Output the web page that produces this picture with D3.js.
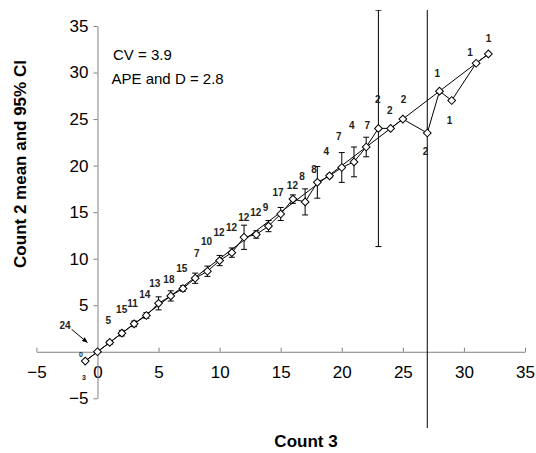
<!DOCTYPE html>
<html>
<head>
<meta charset="utf-8">
<script src="https://cdn.jsdelivr.net/npm/d3@7"></script>
<style>
  body { margin: 0; background: #fff; }
  text { font-family: "Liberation Sans", Arial, Helvetica, sans-serif; }
</style>
</head>
<body>
<div id="chart"></div>
<script>
// values
var count3 = [-1, 0, 1, 2, 3, 4, 5, 6, 7, 8, 9, 10, 11, 12, 13, 14, 15, 16, 17, 18, 19, 20, 21, 22, 23, 24, 25, 27, 28, 29, 31, 32];
var count2Mean = [-1, 0, 1, 2, 3, 3.9, 5.2, 6, 6.8, 7.9, 8.65, 9.8, 10.65, 12.3, 12.6, 13.5, 14.8, 16.4, 16.1, 18.2, 18.9, 19.8, 20.4, 22, 24, 24, 25, 23.5, 28, 27, 31, 32];
var ciHalf = [0, 0, 0.2, 0.3, 0.3, 0.3, 0.7, 0.55, 0.3, 0.55, 0.55, 0.55, 0.5, 1.3, 0.4, 0.6, 0.7, 0.45, 1.4, 1.7, 0.2, 1.6, 1.6, 1.05, 12.7, 0, 0, 45, 0, 0, 0, 0];

// sample sizes and where they sit (data units)
var nLabel = ["3", "24", "5", "15", "11", "14", "13", "18", "15", "7", "10", "12", "12", "12", "12", "9", "17", "12", "8", "8", "4", "7", "4", "7", "2", "2", "2", "2", "1", "1", "1", "1"];
var labelX = [-1.1, -2.66, 0.88, 1.98, 2.88, 3.88, 4.70, 5.85, 6.91, 8.14, 8.93, 9.96, 10.97, 11.98, 12.96, 13.75, 14.78, 15.96, 16.75, 17.73, 18.74, 19.75, 20.81, 22.09, 22.94, 23.92, 25.06, 26.86, 27.82, 28.82, 30.51, 32.01];
var labelY = [-2.77, 2.85, 3.32, 4.58, 5.17, 6.18, 7.31, 7.79, 8.97, 10.58, 11.9, 12.86, 13.4, 14.47, 15.0, 15.54, 17.15, 17.87, 18.83, 19.58, 21.5, 23.1, 24.3, 24.3, 27.1, 25.9, 27.1, 21.5, 29.9, 24.8, 32.2, 33.7];
var extraLabel = { text: "0", x: -1.35, y: -0.25 };
var arrowFrom = [-2.11, 2.4];
var arrowTo = [-0.83, 1.0];

var oneToOne = [-1, 32];
var xTicks = [-5, 0, 5, 10, 15, 20, 25, 30, 35];
var yTicks = [-5, 5, 10, 15, 20, 25, 30, 35];
var statsText = ["CV = 3.9", "APE and D = 2.8"];

var svgWidth = 536;
var svgHeight = 453;

var svg = d3.select("#chart")
  .append("svg")
  .attr("width", svgWidth)
  .attr("height", svgHeight);

var x = d3.scaleLinear().domain([-5, 35]).range([36.4, 525]);
var y = d3.scaleLinear().domain([-5, 35]).range([398.3, 26]);

var pts = count3.map(function(c, i) {
  return { x: c, y: count2Mean[i], ci: ciHalf[i], n: nLabel[i], lx: labelX[i], ly: labelY[i] };
});

// plot area clip (error bars run off the top and bottom)
svg.append("clipPath").attr("id", "plotClip")
  .append("rect")
  .attr("x", 0).attr("y", 10)
  .attr("width", svgWidth).attr("height", 418);

// axes
var xAxis = svg.append("g")
  .attr("transform", "translate(0," + y(0) + ")")
  .call(d3.axisBottom(x).tickValues(xTicks).tickSizeInner(-4).tickSizeOuter(0).tickPadding(14));

var yAxis = svg.append("g")
  .attr("transform", "translate(" + x(0) + ",0)")
  .call(d3.axisLeft(y).tickValues(yTicks).tickSizeInner(4).tickSizeOuter(0).tickPadding(5));

[xAxis, yAxis].forEach(function(ax) {
  ax.select(".domain").attr("stroke", "#808080");
  ax.selectAll(".tick line").attr("stroke", "#808080");
  ax.selectAll(".tick text")
    .attr("fill", "#000")
    .style("font-size", "17px")
    .style("font-family", "'Liberation Sans', Arial, sans-serif");
});

var plot = svg.append("g").attr("clip-path", "url(#plotClip)");

// 1:1 line
plot.append("line")
  .attr("x1", x(oneToOne[0])).attr("y1", y(oneToOne[0]))
  .attr("x2", x(oneToOne[1])).attr("y2", y(oneToOne[1]))
  .attr("stroke", "#000")
  .attr("stroke-width", 1);

// mean line
var line = d3.line().x(d => x(d.x)).y(d => y(d.y));
plot.append("path")
  .datum(pts)
  .attr("d", line)
  .attr("fill", "none")
  .attr("stroke", "#000")
  .attr("stroke-width", 1);

// error bars
var bars = plot.selectAll(".err")
  .data(pts.filter(d => d.ci > 0))
  .enter()
  .append("g")
  .attr("class", "err")
  .attr("stroke", "#000")
  .attr("stroke-width", 1);

bars.append("line")
  .attr("x1", d => x(d.x)).attr("x2", d => x(d.x))
  .attr("y1", d => y(d.y - d.ci)).attr("y2", d => y(d.y + d.ci));
bars.append("line")
  .attr("x1", d => x(d.x) - 3).attr("x2", d => x(d.x) + 3)
  .attr("y1", d => y(d.y + d.ci)).attr("y2", d => y(d.y + d.ci));
bars.append("line")
  .attr("x1", d => x(d.x) - 3).attr("x2", d => x(d.x) + 3)
  .attr("y1", d => y(d.y - d.ci)).attr("y2", d => y(d.y - d.ci));

// diamond markers
var diamond = d3.symbol().type(d3.symbolSquare).size(30);
svg.selectAll(".pt")
  .data(pts)
  .enter()
  .append("path")
  .attr("class", "pt")
  .attr("d", diamond)
  .attr("transform", d => "translate(" + x(d.x) + "," + y(d.y) + ") rotate(45)")
  .attr("fill", "#fff")
  .attr("stroke", "#000")
  .attr("stroke-width", 1);

// sample size labels
svg.selectAll(".nlab")
  .data(pts)
  .enter()
  .append("text")
  .attr("class", "nlab")
  .attr("x", d => x(d.lx))
  .attr("y", d => y(d.ly))
  .attr("dy", "0.35em")
  .attr("text-anchor", "middle")
  .style("font-size", d => d.x < 0 ? "7px" : "10px")
  .style("font-weight", "bold")
  .attr("fill", "#222")
  .text(d => d.n);

svg.append("text")
  .attr("x", x(extraLabel.x))
  .attr("y", y(extraLabel.y))
  .attr("dy", "0.35em")
  .attr("text-anchor", "middle")
  .style("font-size", "7px")
  .style("font-weight", "bold")
  .attr("fill", "#222")
  .text(extraLabel.text);

// arrow to the origin point
svg.append("defs").append("marker")
  .attr("id", "arrowHead")
  .attr("viewBox", "0 0 10 10")
  .attr("refX", 9).attr("refY", 5)
  .attr("markerWidth", 6).attr("markerHeight", 6)
  .attr("orient", "auto")
  .append("path")
  .attr("d", "M0,1L10,5L0,9Z")
  .attr("fill", "#000");

svg.append("line")
  .attr("x1", x(arrowFrom[0])).attr("y1", y(arrowFrom[1]))
  .attr("x2", x(arrowTo[0])).attr("y2", y(arrowTo[1]))
  .attr("stroke", "#000")
  .attr("stroke-width", 1)
  .attr("marker-end", "url(#arrowHead)");

// stats text
svg.selectAll(".stat")
  .data(statsText)
  .enter()
  .append("text")
  .attr("class", "stat")
  .attr("x", (d, i) => i === 0 ? 113 : 111.5)
  .attr("y", (d, i) => 60 + i * 23.5)
  .style("font-size", "15px")
  .attr("fill", "#000")
  .text(d => d);

// axis titles
svg.append("text")
  .attr("x", 306)
  .attr("y", 447)
  .attr("text-anchor", "middle")
  .style("font-size", "17px")
  .style("font-weight", "bold")
  .text("Count 3");

svg.append("text")
  .attr("transform", "translate(26,164) rotate(-90)")
  .attr("text-anchor", "middle")
  .style("font-size", "17px")
  .style("font-weight", "bold")
  .text("Count 2 mean and 95% CI");
</script>
</body>
</html>
